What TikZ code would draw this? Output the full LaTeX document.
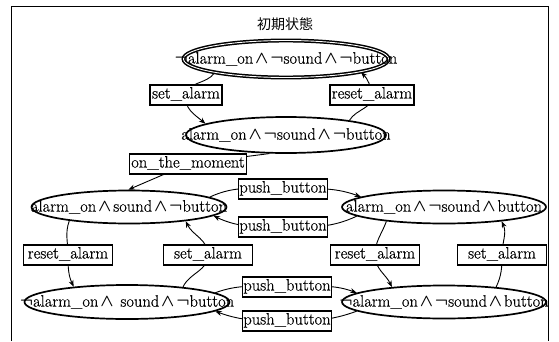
\documentclass[tikz,border=0pt]{standalone}
\usepackage{fontspec}
\newfontfamily\cjkfont{Noto Sans CJK JP}
\newfontfamily\heavyfont{Latin Modern Roman}[FakeBold=0.5]
\usetikzlibrary{arrows.meta,shapes.geometric,backgrounds}
\newcommand{\fsz}{\heavyfont\fontsize{16.5}{19}\selectfont}
\newcommand{\myand}{$\mkern2mu\boldsymbol{\wedge}\mkern2mu$}
\newcommand{\mynot}{$\boldsymbol{\neg}$}
\usepackage{amsmath}
\newcommand{\ctr}[1]{\makebox[0pt][c]{#1}}
\begin{document}
\begin{tikzpicture}[x=1pt,y=1pt,
  st/.style={ellipse, draw, line width=1.7pt, inner sep=0pt, font=\fsz},
  lbl/.style={draw, line width=1.5pt, fill=white, inner sep=2pt, minimum height=20pt,
              text height=11pt, text depth=4pt, font=\fsz},
  wlbl/.style={lbl, minimum width=89pt},
  conn/.style={line width=0.9pt, -{Stealth[length=6.5pt,width=5pt]}}]
\useasboundingbox (0,0) rectangle (559,341);
% frame
\draw[line width=1pt] (11,0) -- (11,334) -- (548,334) -- (548,0);
% title
\node[font=\cjkfont\fontsize{14}{16}\selectfont] (title) at (285,317) {初期状態};
% states
\node[st, double, double distance=0.9pt, line width=1.5pt, minimum width=205pt, minimum height=37pt] (e1) at (286,282)
  {\ctr{\mynot alarm\_on\myand\mynot sound\myand\mynot button}};
\node[st, minimum width=200pt, minimum height=36pt] (e2) at (286,206)
  {\ctr{alarm\_on\myand\mynot sound\myand\mynot button}};
\node[st, minimum width=195pt, minimum height=33pt] (e3) at (129,134)
  {\ctr{alarm\_on\myand sound\myand\mynot button}};
\node[st, minimum width=204pt, minimum height=33pt] (e4) at (444,134)
  {\ctr{alarm\_on\myand\mynot sound\myand button}};
\node[st, minimum width=205pt, minimum height=34pt] (e5) at (127,39)
  {\ctr{\mynot alarm\_on\myand\ sound\myand\mynot button}};
\node[st, minimum width=204pt, minimum height=33pt] (e6) at (444,39)
  {\ctr{\mynot alarm\_on\myand\mynot sound\myand button}};
% labels
\node[lbl] (l1) at (186,246) {set\_alarm};
\node[lbl] (l2) at (372,246) {reset\_alarm};
\node[lbl] (l3) at (188,177) {on\_the\_moment};
\node[lbl, inner xsep=1pt] (l4) at (283,152) {push\_button};
\node[lbl, inner xsep=1pt] (l5) at (283,114) {push\_button};
\node[wlbl] (l6) at (68,86) {reset\_alarm};
\node[wlbl] (l7) at (208,86) {set\_alarm};
\node[wlbl] (l8) at (375,86) {reset\_alarm};
\node[wlbl] (l9) at (502,86) {set\_alarm};
\node[lbl, inner xsep=1pt] (l10) at (287,54) {push\_button};
\node[lbl, inner xsep=1pt] (l11) at (287,20) {push\_button};
% transitions
\begin{scope}[on background layer]
\draw[conn] (e1.191) to[out=235,in=80] (l1.center) to[out=260,in=140] (e2.172);
\draw[conn] (e2.13) to[out=60,in=280] (l2.center) to[out=100,in=315] (e1.350);
\draw[conn] (e2.228) -- (l3.center) -- (e3.92);
\draw[conn] (e3.7) to[out=25,in=180] (l4.center) to[out=0,in=160] (e4.173);
\draw[conn] (e4.186) to[out=205,in=0] (l5.center) to[out=180,in=335] (e3.354);
\draw[conn] (e3.193) to[out=250,in=90] (l6.center) to[out=270,in=115] (e5.164);
\draw[conn] (e5.15) to[out=65,in=270] (l7.center) to[out=90,in=295] (e3.346);
\draw[conn] (e4.194) to[out=250,in=90] (l8.center) to[out=270,in=115] (e6.164);
\draw[conn] (e6.16) to[out=65,in=270] (l9.center) to[out=90,in=295] (e4.346);
\draw[conn] (e5.6) to[out=20,in=180] (l10.center) to[out=0,in=160] (e6.174);
\draw[conn] (e6.186) to[out=200,in=0] (l11.center) to[out=180,in=340] (e5.354);
\end{scope}
\end{tikzpicture}
\end{document}
